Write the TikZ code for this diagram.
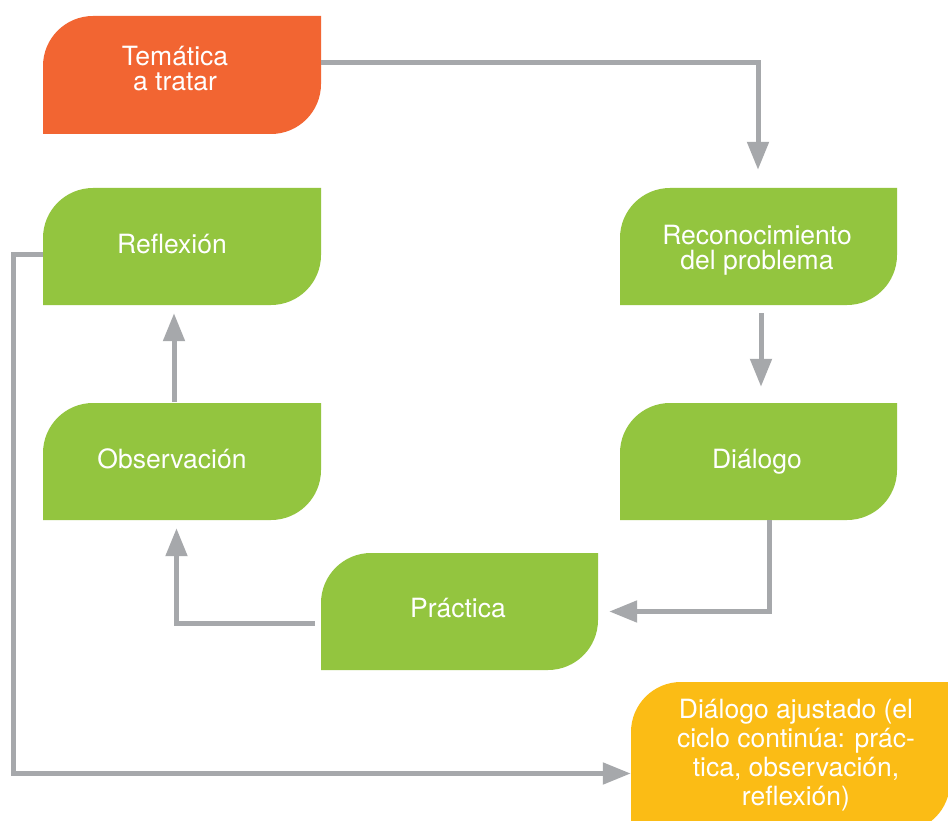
\documentclass[tikz,border=0pt]{standalone}
\usepackage{fontspec}
\setmainfont{TeX Gyre Heros}
\usetikzlibrary{arrows.meta}
\definecolor{corange}{HTML}{F26532}
\definecolor{cgreen}{HTML}{93C53F}
\definecolor{cyellow}{HTML}{FBBC15}
\definecolor{cgray}{HTML}{A6A8AB}
\tikzset{
  leaf/.style={rectangle, draw=none, inner sep=0pt,
    path picture={\fill[#1] (path picture bounding box.south west)
      -- ([yshift=-50pt]path picture bounding box.north west)
      arc[start angle=180,end angle=90,radius=50pt]
      -- (path picture bounding box.north east)
      -- ([yshift=50pt]path picture bounding box.south east)
      arc[start angle=0,end angle=-90,radius=50pt] -- cycle;}},
  txt/.style={text=white, font=\fontsize{26.5}{25}\selectfont, align=center, inner sep=0pt},
  wide/.style={txt, font=\fontsize{26.5}{29}\selectfont},
  one/.style={txt, text height=19pt, text depth=0pt},
  arr/.style={draw=cgray, line width=5pt, -{Triangle[length=28pt,width=21pt]}},
}
\begin{document}
\begin{tikzpicture}[x=1pt,y=-1pt]
\clip (0,0) rectangle (948,821);
\fill[white] (0,0) rectangle (948,821);
\node[leaf=corange, minimum width=278pt, minimum height=118pt,
  label={[txt,xshift=-7pt,yshift=6pt]center:{Temática\\a tratar}}] (tema) at (182,75) {};
\node[leaf=cgreen, minimum width=278pt, minimum height=117pt,
  label={[one,xshift=-10pt,yshift=2.5pt]center:Reflexión}] (refl) at (182,246.5) {};
\node[leaf=cgreen, minimum width=277pt, minimum height=117pt,
  label={[txt,xshift=-1.5pt,yshift=-4pt]center:{Reconocimiento\\del problema}}] (reco) at (758.5,246.5) {};
\node[leaf=cgreen, minimum width=278pt, minimum height=117pt,
  label={[one,xshift=-10pt,yshift=2.5pt]center:Observación}] (obs) at (182,461.5) {};
\node[leaf=cgreen, minimum width=277pt, minimum height=117pt,
  label={[one,xshift=-1.5pt,yshift=2.5pt]center:Diálogo}] (dial) at (758.5,461.5) {};
\node[leaf=cgreen, minimum width=277pt, minimum height=117pt,
  label={[one,xshift=-1.5pt,yshift=3.5pt]center:Práctica}] (prac) at (459.5,611.5) {};
\node[leaf=cyellow, minimum width=319pt, minimum height=150pt,
  label={[wide,xshift=5.5pt,yshift=1.5pt]center:{Diálogo ajustado (el\\ciclo continúa: prác-\\tica, observación,\\reflexión)}}] (adj) at (790.5,757) {};
\coordinate (corner) at (13.5,773.5);
\draw[arr] ([yshift=12.5pt]tema.east) -| ([xshift=-0.5pt,yshift=18pt]reco.north);
\draw[arr] ([xshift=2.5pt,yshift=-8pt]reco.south) -- ([xshift=2.5pt,yshift=16pt]dial.north);
\draw[arr] ([xshift=11pt]dial.south) |- ([xshift=11pt]prac.east);
\draw[arr] ([xshift=-6pt,yshift=-11.5pt]prac.west) -| ([xshift=-5.5pt,yshift=-8pt]obs.south);
\draw[arr] ([xshift=-8pt,yshift=1pt]obs.north) -- ([xshift=-8pt,yshift=-8pt]refl.south);
\draw[arr] ([yshift=-8pt]refl.west) -| (corner) -- (corner -| adj.west);
\end{tikzpicture}
\end{document}
